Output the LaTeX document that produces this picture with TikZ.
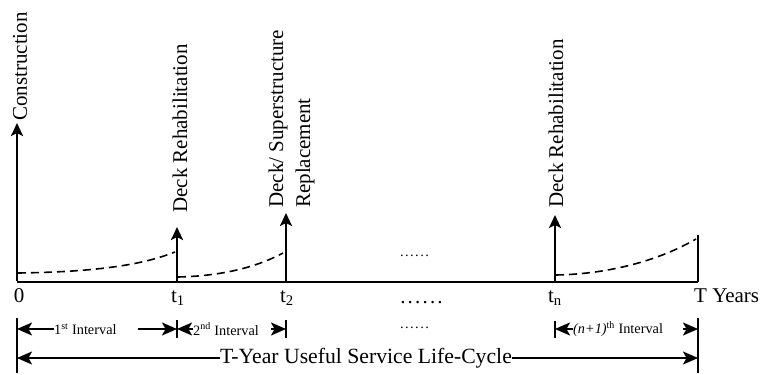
\documentclass[tikz,border=0pt]{standalone}
\usepackage{fontspec}
\setmainfont{Liberation Serif}
\usetikzlibrary{arrows.meta}
\newcommand\mydots[1]{.\kern#1.\kern#1.\kern#1.\kern#1.\kern#1.}
\begin{document}
\begin{tikzpicture}[x=1pt,y=-1pt,
  big/.style={font=\fontsize{21}{27}\selectfont, inner sep=0pt},
  bigger/.style={font=\fontsize{21.7}{27}\selectfont, inner sep=0pt},
  small/.style={font=\fontsize{14.3}{17}\selectfont, inner sep=0pt},
  evt/.style={line width=2.6pt, -{Stealth[length=13pt,width=12pt,inset=3pt]}},
  axisline/.style={line width=2pt},
  dimarr/.style={line width=1.8pt, -{Stealth[length=15pt,width=13pt,inset=3.5pt]}},
  trend/.style={line width=1.6pt, dash pattern=on 8pt off 5pt},
  tickline/.style={line width=1.6pt}]
\useasboundingbox (0,0) rectangle (761,375);
% axis points
\coordinate (O) at (17,282);
\coordinate (T1) at (177,282);
\coordinate (T2) at (286,282);
\coordinate (TN) at (555,282);
\coordinate (TE) at (698,282);
\coordinate (Otop) at (17,123);
\coordinate (T1top) at (177,227);
\coordinate (T2top) at (286,213);
\coordinate (TNtop) at (555,215);
\coordinate (TEtop) at (698,235);
% axis
\draw[axisline] (O) -- (TE);
\draw[axisline] (TE) -- (TEtop);
% event arrows
\draw[evt] ([yshift=1pt]O) -- (Otop);
\draw[evt] ([yshift=1pt]T1) -- (T1top);
\draw[evt] ([yshift=1pt]T2) -- (T2top);
\draw[evt] ([yshift=1pt]TN) -- (TNtop);
% deterioration curves
\draw[trend] (18,273) .. controls (90,272) and (140,266) .. (175,252);
\draw[trend] (178,277) .. controls (220,276) and (255,268) .. (283,253);
\draw[trend] (556,275) .. controls (610,274) and (660,260) .. (696,239);
% event labels
\node[big, rotate=90, anchor=base west] (lc) at (27,121) {Construction};
\node[big, rotate=90, anchor=base west] (l1) at (187,213) {Deck Rehabilitation};
\node[big, rotate=90, anchor=base west] (l2a) at (283,208) {Deck/ Superstructure};
\node[big, rotate=90, anchor=base west] (l2b) at (310,208) {Replacement};
\node[big, rotate=90, anchor=base west] (ln) at (563,208) {Deck Rehabilitation};
% time labels
\node[big, anchor=base] (l0) at (19,302) {0};
\node[big, anchor=base] (lt1) at (178,302) {t\textsubscript{1}};
\node[big, anchor=base] (lt2) at (287,302) {t\textsubscript{2}};
\node[big, anchor=base] (ltn) at (555,302) {t\textsubscript{n}};
\node[big, anchor=base west] (lT) at (694,302) {T Years};
% dots
\node[small, anchor=base] (d1) at (414.5,256) {\mydots{1.5pt}};
\node[big, anchor=base] (d2) at (421.5,303) {\mydots{2.2pt}};
\node[small, anchor=base] (d3) at (414.5,328) {\mydots{1.5pt}};
% bars and ticks
\coordinate (B0a) at (17,318);
\coordinate (B0b) at (17,373);
\coordinate (BEa) at (698,318);
\coordinate (BEb) at (698,373);
\coordinate (K1a) at (177,320);
\coordinate (K1b) at (177,338);
\coordinate (K2a) at (286,320);
\coordinate (K2b) at (286,338);
\coordinate (KNa) at (555,321);
\coordinate (KNb) at (555,338);
\draw[tickline] (B0a) -- (B0b);
\draw[tickline] (BEa) -- (BEb);
\draw[tickline] (K1a) -- (K1b);
\draw[tickline] (K2a) -- (K2b);
\draw[tickline] (KNa) -- (KNb);
% interval labels
\node[small, anchor=west] (i1) at (54,329) {1\textsuperscript{st} Interval};
\node[small, anchor=west] (i2) at (193,329) {2\textsuperscript{nd} Interval};
\node[small, anchor=west] (i3) at (573,329) {\textit{(n+1)}\textsuperscript{th} Interval};
\node[bigger, anchor=west] (life) at (220,358) {T-Year Useful Service Life-Cycle};
% interval arrows
\draw[dimarr] (i1.west) -- (i1.west -| B0a);
\draw[dimarr] ([xshift=21pt]i1.east) -- (i1.east -| K1a);
\draw[dimarr] (i2.west) -- (i2.west -| K1a);
\draw[dimarr] ([xshift=12pt]i2.east) -- (i2.east -| K2a);
\draw[dimarr] (i3.west) -- (i3.west -| KNa);
\draw[dimarr] ([xshift=20pt]i3.east) -- (i3.east -| BEa);
\draw[dimarr] (life.west) -- (life.west -| B0a);
\draw[dimarr] (life.east) -- (life.east -| BEa);
\end{tikzpicture}
\end{document}
